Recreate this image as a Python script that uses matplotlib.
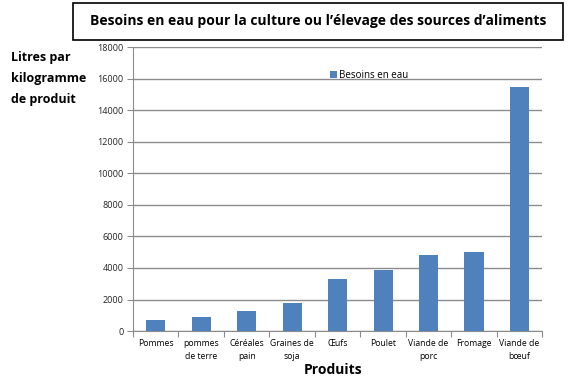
import numpy as np
import matplotlib.pyplot as plt
from matplotlib.patches import Rectangle

# data
produits = ['Pommes', 'pommes\nde terre', 'Céréales\npain', 'Graines de\nsoja',
            'Œufs', 'Poulet', 'Viande de\nporc', 'Fromage', 'Viande de\nbœuf']
besoins = [700, 900, 1300, 1800, 3300, 3900, 4800, 5000, 15500]
yticks = [0, 2000, 4000, 6000, 8000, 10000, 12000, 14000, 16000, 18000]

plt.rcParams['font.family'] = ['Open Sans', 'DejaVu Sans']

fig = plt.figure(figsize=(5.74, 3.81), dpi=100)
ax = fig.add_axes([0.2317, 0.131, 0.713, 0.7454])

x = np.arange(len(produits))
ax.bar(x, besoins, width=0.42, color='#4f81bd', label='Besoins en eau', zorder=3)

ax.set_xlim(-0.5, len(produits) - 0.5)
ax.set_ylim(0, 18000)
ax.set_yticks(yticks)
ax.set_yticklabels([str(t) for t in yticks], fontsize=6.5, color='#222222')
ax.yaxis.grid(True, color='#8c8c8c', linewidth=1, zorder=0)

# category labels centred, tick marks on the boundaries (Excel style)
ax.set_xticks(np.arange(len(produits) + 1) - 0.5)
ax.set_xticklabels([])
ax.set_xticks(x, minor=True)
ax.set_xticklabels(produits, minor=True, fontsize=6.2, linespacing=1.5)
ax.tick_params(axis='x', which='minor', length=0, pad=6)
ax.tick_params(axis='x', which='major', length=4, color='#8c8c8c')
ax.tick_params(axis='y', length=4, color='#8c8c8c', pad=3)

for s in ['top', 'right']:
    ax.spines[s].set_visible(False)
ax.spines['left'].set_color('#8c8c8c')
ax.spines['bottom'].set_color('#8c8c8c')

ax.legend(loc='upper left', bbox_to_anchor=(0.46, 0.95), frameon=False,
          fontsize=7, handlelength=0.7, handleheight=0.7, handletextpad=0.2)

# title box
fig.patches.append(Rectangle((0.127, 0.895), 0.854, 0.097, transform=fig.transFigure,
                             facecolor='white', edgecolor='black', linewidth=1.2,
                             zorder=5))
fig.text(0.555, 0.945, 'Besoins en eau pour la culture ou l’élevage des sources d’aliments',
         ha='center', va='center', fontsize=10, fontweight='bold', zorder=6)

fig.text(0.02, 0.865, 'Litres par\nkilogramme\nde produit', ha='left', va='top',
         fontsize=9, fontweight='bold', linespacing=1.8)
fig.text(0.58, 0.028, 'Produits', ha='center', va='center', fontsize=10, fontweight='bold')

fig.savefig('out.png', dpi=100)
